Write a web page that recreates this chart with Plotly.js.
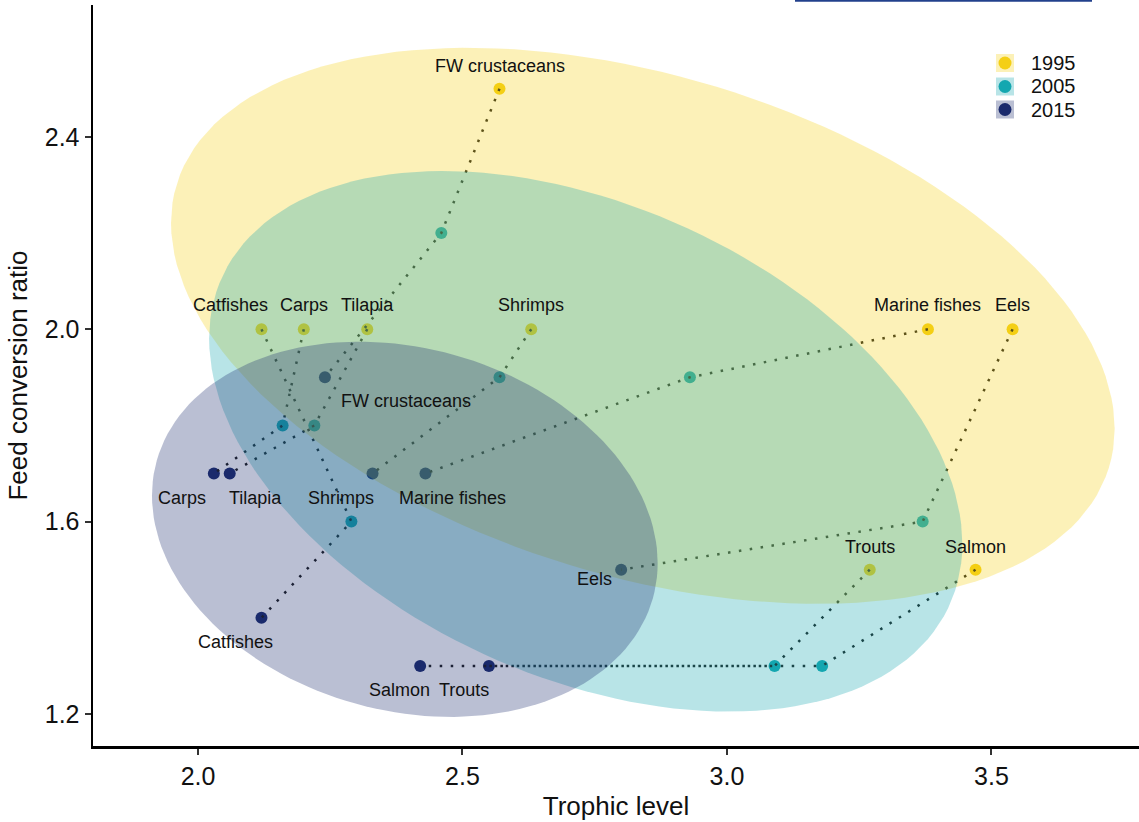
<!DOCTYPE html>
<html><head><meta charset="utf-8">
<script src="https://cdn.plot.ly/plotly-3.0.1.min.js"></script>
<style>html,body{margin:0;padding:0;background:#fff;} #chart{width:1139px;height:822px;}</style>
</head><body><div id="chart"></div>
<script>
// ---------------- data ----------------
const species = ["FW crustaceans","Catfishes","Carps","Tilapia","Shrimps","Marine fishes","Eels","Trouts","Salmon"];
const years = ["1995","2005","2015"];
const trophic1995 = [2.57,2.12,2.20,2.32,2.63,3.38,3.54,3.27,3.47];
const fcr1995     = [2.5, 2.0, 2.0, 2.0, 2.0, 2.0, 2.0, 1.5, 1.5];
const trophic2005 = [2.46,2.29,2.16,2.22,2.57,2.93,3.37,3.09,3.18];
const fcr2005     = [2.2, 1.6, 1.8, 1.8, 1.9, 1.9, 1.6, 1.3, 1.3];
const trophic2015 = [2.24,2.12,2.03,2.06,2.33,2.43,2.80,2.55,2.42];
const fcr2015     = [1.9, 1.4, 1.7, 1.7, 1.7, 1.7, 1.5, 1.3, 1.3];
const xTicks = [2.0,2.5,3.0,3.5];
const yTicks = [1.2,1.6,2.0,2.4];
const labelledYears = ["1995","2015"];
// confidence ellipses per year: centre, half-extent in x and y, correlation
const ellipseCenterX = [2.841, 2.733, 2.391];
const ellipseCenterY = [2.007, 1.767, 1.584];
const ellipseHalfX   = [0.892, 0.712, 0.478];
const ellipseHalfY   = [0.578, 0.562, 0.390];
const ellipseRho     = [-0.37, -0.38, -0.18];

// ---------------- styles ----------------
const FONT = "Liberation Sans, Arial, Helvetica, sans-serif";
const colors = {"1995":"#F4CF15","2005":"#14A7B0","2015":"#1A2A6C"};
const ALPHA = 0.3;
// label offsets in pixels (dx right, dy down) relative to the point
const labelOffsets = {
  "1995": [[0,-23],[-31,-24],[0,-24],[0,-24],[0,-24],[0,-24],[0,-24],[0,-23],[0,-23]],
  "2015": [[81,24],[-26,24],[-32,24],[26,24],[-32,24],[27,24],[-27,9],[-25,24],[-21,24]]
};

const byYear = {
  "1995": {x: trophic1995, y: fcr1995},
  "2005": {x: trophic2005, y: fcr2005},
  "2015": {x: trophic2015, y: fcr2015}
};

function rgba(hex, a){
  const r=parseInt(hex.slice(1,3),16), g=parseInt(hex.slice(3,5),16), b=parseInt(hex.slice(5,7),16);
  return `rgba(${r},${g},${b},${a})`;
}

function ellipse(k){
  const cx=ellipseCenterX[k], cy=ellipseCenterY[k], hx=ellipseHalfX[k], hy=ellipseHalfY[k], rho=ellipseRho[k];
  const s = Math.sqrt(1-rho*rho);
  const ex=[], ey=[], seg=160;
  for (let i=0;i<=seg;i++){
    const t=2*Math.PI*i/seg;
    ex.push(cx + hx*Math.cos(t));
    ey.push(cy + hy*(rho*Math.cos(t) + s*Math.sin(t)));
  }
  return {x:ex, y:ey};
}

const traces = [];
// points
years.forEach(yr => {
  traces.push({type:'scatter', mode:'markers', x: byYear[yr].x, y: byYear[yr].y,
    marker:{color: colors[yr], size:12, line:{width:0}}, showlegend:false, hoverinfo:'skip'});
});
// dotted paths per species
species.forEach((sp, i) => {
  traces.push({type:'scatter', mode:'lines',
    x: years.map(yr => byYear[yr].x[i]), y: years.map(yr => byYear[yr].y[i]),
    line:{color:'#1c1c1c', width:2.5, dash:'2.5px,8.5px'}, showlegend:false, hoverinfo:'skip'});
});
// ellipses
years.forEach((yr,k) => {
  const e = ellipse(k);
  traces.push({type:'scatter', mode:'lines', x:e.x, y:e.y, fill:'toself',
    fillcolor: rgba(colors[yr], ALPHA), line:{width:0}, showlegend:false, hoverinfo:'skip'});
});

// labels
const annotations = [];
labelledYears.forEach(yr => {
  species.forEach((sp, i) => {
    const off = labelOffsets[yr][i];
    annotations.push({x: byYear[yr].x[i], y: byYear[yr].y[i], xref:'x', yref:'y', text: sp,
      showarrow:false, xshift: off[0], yshift: -off[1], xanchor:'center', yanchor:'middle',
      font:{family:FONT, size:18, color:'#111'}});
  });
});

// manual legend (paper coords)
const plotL=93, plotR=1139, plotT=5, plotB=746;
const px = v => (v-plotL)/(plotR-plotL);
const py = v => (plotB-v)/(plotB-plotT);
const shapes = [];
const legendRows = [63, 86.5, 109.5];
years.forEach((yr, k) => {
  const cy = py(legendRows[k]), cx = px(1005);
  shapes.push({type:'rect', xref:'paper', yref:'paper', xsizemode:'pixel', ysizemode:'pixel',
    xanchor:cx, yanchor:cy, x0:-9, x1:9, y0:-9, y1:9, fillcolor: rgba(colors[yr], ALPHA), line:{width:0}});
  shapes.push({type:'circle', xref:'paper', yref:'paper', xsizemode:'pixel', ysizemode:'pixel',
    xanchor:cx, yanchor:cy, x0:-6.5, x1:6.5, y0:-6.5, y1:6.5, fillcolor: colors[yr], line:{width:0}});
  annotations.push({xref:'paper', yref:'paper', x: px(1029), y: cy, text: yr, showarrow:false,
    xanchor:'left', yanchor:'middle', font:{family:FONT, size:20, color:'#111'}});
});
// thin dark bar at the very top right of the image
shapes.push({type:'line', xref:'paper', yref:'paper', x0:px(795), x1:px(1092), y0:py(0.8), y1:py(0.8),
  line:{color:'#22408C', width:2}});

const layout = {
  width:1139, height:822,
  margin:{l:plotL, r:1139-plotR, t:plotT, b:822-plotB},
  paper_bgcolor:'#fff', plot_bgcolor:'#fff',
  showlegend:false,
  font:{family:FONT, color:'#111'},
  xaxis:{range:[1.8015,3.779], tickvals:xTicks, ticktext:xTicks.map(v=>v.toFixed(1)),
    ticks:'outside', ticklen:6, tickwidth:2, tickcolor:'#333',
    showline:true, linecolor:'#000', linewidth:2.5, showgrid:false, zeroline:false,
    tickfont:{family:FONT, size:25, color:'#111'},
    title:{text:'Trophic level', font:{family:FONT, size:26, color:'#111'}, standoff:9}},
  yaxis:{range:[1.1335,2.674], tickvals:yTicks, ticktext:yTicks.map(v=>v.toFixed(1)),
    ticks:'outside', ticklen:6, tickwidth:2, tickcolor:'#333',
    showline:true, linecolor:'#000', linewidth:2.5, showgrid:false, zeroline:false,
    tickfont:{family:FONT, size:25, color:'#111'},
    title:{text:'Feed conversion ratio', font:{family:FONT, size:26, color:'#111'}, standoff:10}},
  annotations: annotations,
  shapes: shapes
};

Plotly.newPlot('chart', traces, layout, {staticPlot:true, displayModeBar:false});
</script>
</body></html>
